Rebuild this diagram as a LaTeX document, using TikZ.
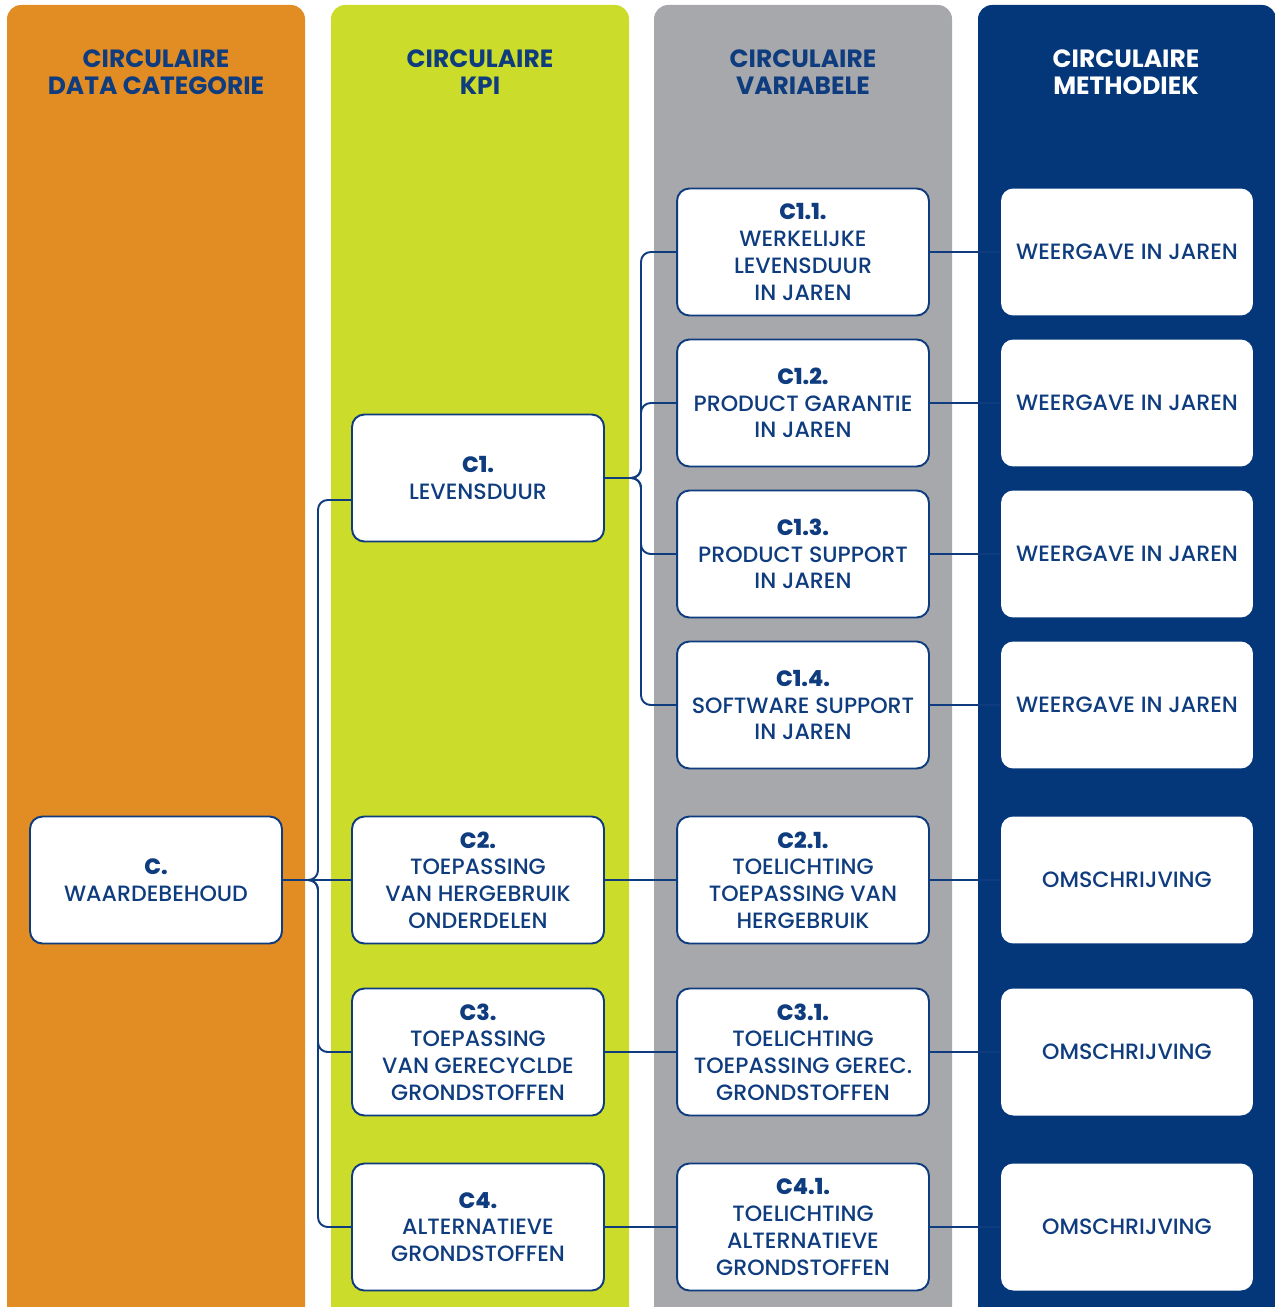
\documentclass[tikz,border=0pt]{standalone}
\usepackage{fontspec}
\setmainfont{Poppins}
\newfontfamily\bodyfont{Poppins Medium}
\usepackage{tikz}
\usetikzlibrary{calc,positioning}
\definecolor{oranje}{RGB}{226,140,36}
\definecolor{geel}{RGB}{204,220,42}
\definecolor{grijs}{RGB}{167,168,172}
\definecolor{marine}{RGB}{4,54,122}
\definecolor{inkt}{RGB}{14,60,126}
\tikzset{
  head/.style={text=inkt, font=\fontsize{14.2}{15.5}\selectfont\bfseries, align=center},
  kader/.style={rectangle, draw=inkt, line width=1.1pt, fill=white, rounded corners=7pt, minimum width=5.04cm, minimum height=2.54cm, align=center, text=inkt, font=\bodyfont\fontsize{12.6}{15.2}\selectfont, inner sep=2pt},
  meth/.style={kader, draw=none},
  link/.style={draw=inkt, line width=1.1pt, rounded corners=5.5pt},
}

\begin{document}
\begin{tikzpicture}[x=0.02cm,y=-0.02cm]
\useasboundingbox (0,0) rectangle (1274,1307);
% columns
\foreach \x/\c in {7/oranje,331/geel,654/grijs,978/marine}
  \fill[\c, rounded corners=8pt] (\x,654) -- (\x,5) -- (\x+298,5) -- (\x+298,654) [sharp corners] -- (\x+298,1307) -- (\x,1307) -- cycle;

\node[head] (hcat) at (156,72) {CIRCULAIRE\\DATA CATEGORIE};
\node[head] (hkpi) at (480,72) {CIRCULAIRE\\KPI};
\node[head] (hvar) at (803,72) {CIRCULAIRE\\VARIABELE};
\node[head,text=white] (hmeth) at (1126,72) {CIRCULAIRE\\METHODIEK};

% data categorie
\node[kader] (c) at (156,880) {\textbf{C.}\\WAARDEBEHOUD};

% kpi
\node[kader] (c1) at (478,478) {\textbf{C1.}\\LEVENSDUUR};
\node[kader] (c2) at (478,880) {\textbf{C2.}\\TOEPASSING\\VAN HERGEBRUIK\\ONDERDELEN};
\node[kader] (c3) at (478,1052) {\textbf{C3.}\\TOEPASSING\\VAN GERECYCLDE\\GRONDSTOFFEN};
\node[kader] (c4) at (478,1227) {\textbf{C4.}\\ALTERNATIEVE\\GRONDSTOFFEN};

% variabele
\node[kader] (c11) at (803,252) {\textbf{C1.1.}\\WERKELIJKE\\LEVENSDUUR\\IN JAREN};
\node[kader] (c12) at (803,403) {\textbf{C1.2.}\\PRODUCT GARANTIE\\IN JAREN};
\node[kader] (c13) at (803,554) {\textbf{C1.3.}\\PRODUCT SUPPORT\\IN JAREN};
\node[kader] (c14) at (803,705) {\textbf{C1.4.}\\SOFTWARE SUPPORT\\IN JAREN};
\node[kader] (c21) at (803,880) {\textbf{C2.1.}\\TOELICHTING\\TOEPASSING VAN\\HERGEBRUIK};
\node[kader] (c31) at (803,1052) {\textbf{C3.1.}\\TOELICHTING\\TOEPASSING GEREC.\\GRONDSTOFFEN};
\node[kader] (c41) at (803,1227) {\textbf{C4.1.}\\TOELICHTING\\ALTERNATIEVE\\GRONDSTOFFEN};

% methodiek
\node[meth] (m11) at (1127,252) {WEERGAVE IN JAREN};
\node[meth] (m12) at (1127,403) {WEERGAVE IN JAREN};
\node[meth] (m13) at (1127,554) {WEERGAVE IN JAREN};
\node[meth] (m14) at (1127,705) {WEERGAVE IN JAREN};
\node[meth] (m21) at (1127,880) {OMSCHRIJVING};
\node[meth] (m31) at (1127,1052) {OMSCHRIJVING};
\node[meth] (m41) at (1127,1227) {OMSCHRIJVING};

% connectors
\coordinate (jc) at (318,880);
\coordinate (jc1) at (641,478);
\path[link] (c.east) -- (jc) |- ($(c1.west)+(0,22)$);
\path[link] (c.east) -- (c2.west);
\path[link] (c.east) -- (jc) |- (c3.west);
\path[link] (c.east) -- (jc) |- (c4.west);
\foreach \v in {c11,c12,c13,c14}
  \path[link] (c1.east) -- (jc1) |- (\v.west);
\path[link] (c2.east) -- (c21.west);
\path[link] (c3.east) -- (c31.west);
\path[link] (c4.east) -- (c41.west);
\foreach \v in {11,12,13,14,21,31,41}
  \path[link] (c\v.east) -- (m\v.west);
\end{tikzpicture}
\end{document}
